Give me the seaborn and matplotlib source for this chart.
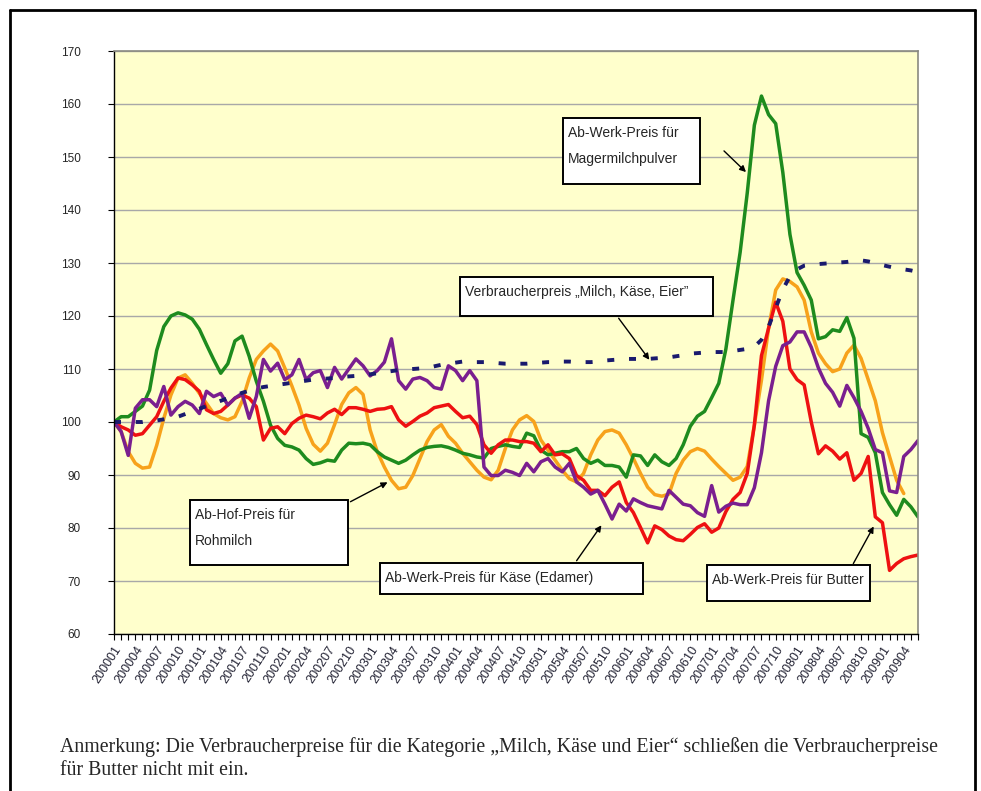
import numpy as np
import pandas as pd
import seaborn as sns
import matplotlib.pyplot as plt
from matplotlib.lines import Line2D
from matplotlib.patches import Rectangle

# monthly index values 200001 .. 200906 (2000 = 100)
months = [f"{y}{m:02d}" for y in range(2000, 2010) for m in range(1, 13)][:114]

magermilch = [100, 101, 101, 102, 103, 106, 113.5, 118, 120, 120.6,
              120.2, 119.4, 117.5, 114.6, 111.8, 109.2, 111, 115.3, 116.2, 112.4,
              107.7, 103.9, 99.4, 96.9, 95.6, 95.3, 94.7, 93.1, 92, 92.3,
              92.8, 92.6, 94.7, 96, 95.9, 96, 95.7, 94.4, 93.4, 92.8,
              92.2, 92.8, 93.8, 94.7, 95.2, 95.4, 95.5, 95.2, 94.7, 94.1,
              93.8, 93.4, 93.2, 95, 95.4, 95.7, 95.4, 95.2, 97.9, 97.4,
              94.7, 93.8, 94.1, 94.4, 94.4, 95, 93.1, 92.2, 92.8, 91.8,
              91.8, 91.5, 89.6, 93.8, 93.6, 91.8, 93.8, 92.5, 91.8, 93.1,
              95.7, 99.2, 101.1, 102, 104.6, 107.3, 113.8, 123, 132, 143.2,
              156, 161.5, 158, 156.3, 147.1, 135.4, 128.2, 125.8, 123, 115.7,
              116.1, 117.4, 117.1, 119.7, 115.8, 97.8, 97.1, 94.2, 86.7, 84.4,
              82.4, 85.4, 84, 82.1]

butter = [100, 99.1, 98.5, 97.5, 97.8, 99.4, 101, 103.9, 106.4, 108.3,
          108, 107, 105.8, 102.3, 101.6, 102, 103.2, 104.5, 105.1, 104.5,
          102.9, 96.6, 98.8, 99.1, 97.8, 99.7, 100.7, 101.3, 101, 100.6,
          101.7, 102.4, 101.4, 102.7, 102.7, 102.4, 102, 102.4, 102.5, 102.9,
          100.4, 99.2, 100.1, 101.1, 101.7, 102.7, 103, 103.3, 102, 100.8,
          101.1, 99.5, 95.7, 94.1, 95.7, 96.6, 96.6, 96.3, 96.3, 96,
          94.4, 95.7, 93.8, 94, 93.1, 89.9, 89, 87.1, 87.1, 86.1,
          87.7, 88.7, 84.8, 82.9, 80.1, 77.2, 80.4, 79.7, 78.5, 77.8,
          77.6, 78.8, 80.1, 80.8, 79.2, 80, 83.1, 85.4, 86.7, 90.3,
          99.4, 112.5, 117.7, 122.6, 119, 110, 108, 107, 100, 94,
          95.5, 94.5, 93, 94.2, 89, 90.3, 93.5, 82.1, 81, 72,
          73.3, 74.2, 74.6, 74.9]

rohmilch = [100, 98.2, 94.4, 92.2, 91.3, 91.5, 95.6, 100.7, 105.1, 108.3,
            108.9, 107.3, 105.4, 103.5, 101.6, 100.8, 100.4, 101, 103.9, 108.3,
            111.8, 113.4, 114.7, 113.4, 110.2, 106.8, 103.2, 98.8, 95.8, 94.5,
            96, 99.5, 103.3, 105.5, 106.5, 105.2, 98.5, 94.4, 91.5, 89,
            87.4, 87.7, 89.9, 93.1, 96.3, 98.5, 99.5, 97.3, 96, 94.1,
            92.5, 90.9, 89.6, 89.1, 90.9, 95, 98.5, 100.4, 101.2, 100.1,
            96.6, 94.7, 92.8, 90.9, 89.3, 88.7, 90.3, 93.8, 96.6, 98.2,
            98.5, 97.9, 95.7, 93.1, 90.3, 87.7, 86.3, 86, 86.4, 90.3,
            92.8, 94.4, 95, 94.5, 93, 91.6, 90.3, 89, 89.6, 91.6,
            99.4, 107.9, 117.7, 124.9, 127, 126.5, 125.5, 123, 117, 113,
            111, 109.5, 110, 113, 114.5, 112, 108, 104, 98, 93.5,
            89, 86.5, np.nan, np.nan]

kaese = [100, 98.2, 93.7, 102.6, 104.2, 104.2, 102.9, 106.7, 101.3, 102.9,
         103.9, 103.2, 101.6, 105.8, 104.8, 105.4, 103.2, 104.5, 105.4, 100.7,
         104.8, 111.8, 109.6, 111.1, 108, 108.9, 111.8, 108, 109.3, 109.7,
         106.5, 110.3, 108.1, 110, 111.9, 110.6, 108.7, 109.7, 111.3, 115.7,
         107.8, 106.2, 108.1, 108.4, 107.8, 106.5, 106.2, 110.6, 109.7, 107.8,
         109.7, 107.8, 91.5, 89.9, 89.9, 90.9, 90.5, 89.9, 92.2, 90.6,
         92.5, 93.1, 91.5, 90.6, 92.2, 88.7, 87.7, 86.4, 87.1, 84.5,
         81.7, 84.5, 83.2, 85.5, 84.8, 84.2, 83.9, 83.6, 87.1, 85.8,
         84.5, 84.2, 82.9, 82.2, 88, 83, 84.1, 84.7, 84.4, 84.4,
         87.6, 94.2, 104, 110.5, 114.4, 115.1, 117, 117, 114.1, 110.2,
         107.3, 105.6, 103, 106.9, 104.6, 102, 98.8, 94.8, 94.2, 87,
         86.7, 93.5, 94.8, 96.5]

verbraucher = [100, 100, 100, 100, 100, 100.2, 100.3, 100.5, 100.7, 101,
               101.5, 102, 102.5, 103, 103.5, 104, 104.5, 105, 105.5, 105.9,
               106.3, 106.6, 106.8, 107, 107.2, 107.4, 107.6, 107.8, 108, 108.1,
               108.2, 108.3, 108.5, 108.6, 108.7, 108.8, 109, 109.2, 109.4, 109.6,
               109.8, 109.9, 110, 110.1, 110.2, 110.5, 110.8, 111, 111.2, 111.4,
               111.4, 111.3, 111.3, 111.2, 111.1, 111, 111, 111, 111, 111.1,
               111.2, 111.3, 111.3, 111.4, 111.4, 111.3, 111.3, 111.3, 111.4, 111.6,
               111.7, 111.8, 111.9, 111.9, 111.9, 111.9, 112, 112.1, 112.2, 112.4,
               112.6, 112.9, 113, 113.1, 113.2, 113.2, 113.2, 113.4, 113.6, 113.8,
               114.2, 115.5, 118, 121.5, 125, 127.5, 128.8, 129.5, 129.7, 129.8,
               129.9, 130, 130.1, 130.2, 130.4, 130.5, 130.3, 130, 129.6, 129.3,
               129, 128.8, 128.6, 128.3]

df = pd.DataFrame({"t": np.arange(len(months)), "monat": months,
                   "Magermilchpulver": magermilch, "Butter": butter,
                   "Rohmilch": rohmilch, "Kaese": kaese,
                   "Verbraucher": verbraucher})

sns.set_style("white")
plt.rcParams["font.family"] = ["Liberation Sans", "DejaVu Sans"]

W, H = 981, 791
fig = plt.figure(figsize=(W / 100, H / 100), dpi=100)
ax = fig.add_axes([114 / W, 1 - 634 / H, (918 - 114) / W, (634 - 51) / H])
ax.set_facecolor("#FFFFCC")


def px(x, y):
    return (x / W, 1 - y / H)


styles = [
    ("Rohmilch", "#F7A21B"),
    ("Magermilchpulver", "#1E8B1E"),
    ("Butter", "#EE1111"),
    ("Kaese", "#7A1F8F"),
]
for col, color in styles:
    sns.lineplot(data=df, x="t", y=col, color=color, linewidth=2.5, ax=ax, legend=False)
sns.lineplot(data=df, x="t", y="Verbraucher", color="#1A1A6E", linewidth=2.8,
             ax=ax, legend=False, linestyle=(0, (1.8, 3.8)))

ax.set_xlim(0, len(months) - 1)
ax.set_ylim(60, 170)
ax.set_yticks(range(60, 171, 10))
ax.set_yticklabels([str(v) for v in range(60, 171, 10)], fontsize=8.5)
ax.yaxis.grid(True, color="#A8A8A8", linewidth=1)
ax.xaxis.grid(False)
ax.set_xlabel("")
ax.set_ylabel("")

major = list(range(0, len(months), 3))
ax.set_xticks(major)
ax.set_xticklabels([months[i] for i in major], rotation=57, ha="right",
                   rotation_mode="anchor", fontsize=9, color="#222233")
ax.set_xticks(range(len(months)), minor=True)
ax.tick_params(axis="x", which="both", direction="out", length=4, width=0.8,
               color="black", pad=3, bottom=True)
ax.tick_params(axis="y", direction="out", length=4, width=0.8, color="black",
               pad=20, left=True)

for side in ["top", "right"]:
    ax.spines[side].set_color("#8A8A80")
    ax.spines[side].set_linewidth(1.2)
for side in ["left", "bottom"]:
    ax.spines[side].set_color("black")
    ax.spines[side].set_linewidth(1.0)

# annotation boxes (pixel positions of the reference layout)
boxes = [
    ((563, 118, 137, 66), ["Ab-Werk-Preis für", "Magermilchpulver"]),
    ((460, 277, 253, 39), ["Verbraucherpreis \u201eMilch, Käse, Eier\u201d"]),
    ((190, 500, 158, 65), ["Ab-Hof-Preis für", "Rohmilch"]),
    ((380, 563, 263, 31), ["Ab-Werk-Preis für Käse (Edamer)"]),
    ((707, 565, 163, 36), ["Ab-Werk-Preis für Butter"]),
]
for (bx, by, bw, bh), lines in boxes:
    x0, y0 = px(bx, by + bh)
    fig.patches.append(Rectangle((x0, y0), bw / W, bh / H, transform=fig.transFigure,
                                 facecolor="white", edgecolor="black", linewidth=1.4,
                                 zorder=5))
    for k, line in enumerate(lines):
        tx, ty = px(bx + 5, by + 8 + k * 26)
        fig.text(tx, ty, line, fontsize=10, va="top", ha="left", zorder=6)

arrows = [
    ((722, 149), (748, 174)),
    ((617, 316), (651, 362)),
    ((348, 503), (390, 481)),
    ((575, 563), (603, 523)),
    ((852, 566), (875, 524)),
]
for start, end in arrows:
    ax.annotate("", xy=px(*end), xytext=px(*start), xycoords="figure fraction",
                textcoords="figure fraction",
                arrowprops=dict(arrowstyle="-|>", color="black", lw=1.0,
                                mutation_scale=9), zorder=7)

# footnote
serif = ["Liberation Serif", "DejaVu Serif"]
fig.text(60 / W, 1 - 752 / H,
         "Anmerkung: Die Verbraucherpreise für die Kategorie \u201eMilch, Käse und Eier\u201c "
         "schließen die Verbraucherpreise",
         family=serif, fontsize=14.3, va="baseline")
fig.text(60 / W, 1 - 775 / H, "für Butter nicht mit ein.",
         family=serif, fontsize=14.3, va="baseline")

# outer frame
for (xa, ya), (xb, yb) in [((10, 800), (10, 10)), ((10, 10), (975, 10)), ((975, 10), (975, 800))]:
    fig.lines.append(Line2D([xa / W, xb / W], [1 - ya / H, 1 - yb / H],
                            transform=fig.transFigure, color="black", linewidth=2))

fig.savefig("out.png", dpi=100)
